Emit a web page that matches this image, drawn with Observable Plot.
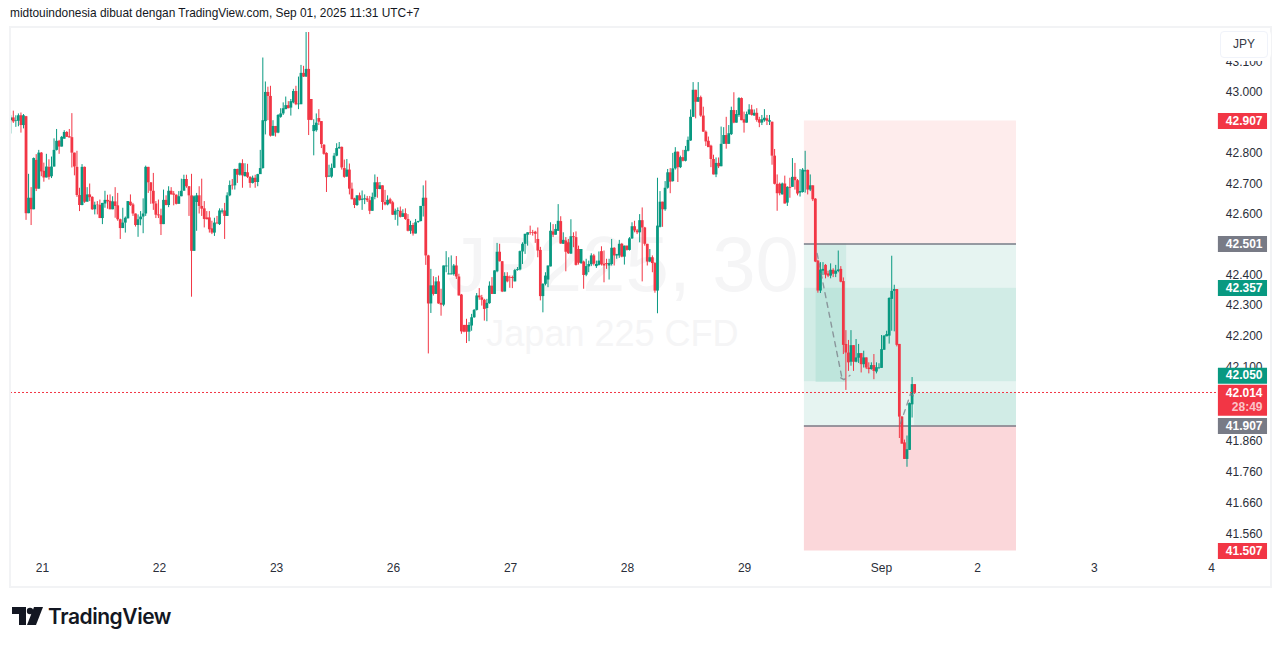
<!DOCTYPE html>
<html><head><meta charset="utf-8">
<script src="https://cdn.jsdelivr.net/npm/d3@7"></script>
<script src="https://cdn.jsdelivr.net/npm/@observablehq/plot@0.6"></script>
<style>
html,body{margin:0;padding:0;background:#fff;width:1281px;height:646px;overflow:hidden;font-family:"Liberation Sans",sans-serif}
#wrap{position:relative;width:1281px;height:646px}
#chart{position:absolute;left:0;top:0}
#pane{position:absolute;left:9px;top:26px;width:1259px;height:558px;border:2px solid #f2f3f5;pointer-events:none}
#title{position:absolute;left:10px;top:6px;font:11.9px "Liberation Sans",sans-serif;color:#131722;white-space:nowrap}
#jpy{position:absolute;left:1220px;top:31px;width:46px;height:25px;line-height:25px;text-align:center;background:#fff;border:1px solid #f0f3fa;border-radius:4px;box-shadow:0 0 0 3px #fff;font:12px/25px "Liberation Sans",sans-serif;color:#363a45}
#logo{position:absolute;left:12px;top:604px;height:24px;display:flex;align-items:center}
#logo span{font:600 21px "Inter",sans-serif;color:#131722;margin-left:5px;letter-spacing:-.45px}
</style></head><body><div id="wrap">
<div id="chart"></div><div id="pane"></div>
<div id="title">midtouindonesia dibuat dengan TradingView.com, Sep 01, 2025 11:31 UTC+7</div>
<div id="jpy">JPY</div>
<div id="logo"><svg width="31" height="18" viewBox="0 0 31 18"><path d="M0 0H14V18H7V7H0Z" fill="#131722"/><circle cx="18" cy="4" r="3.2" fill="#131722"/><path d="M22 0H31L24 18H15Z" fill="#131722"/></svg><span>TradingView</span></div>
</div>
<script>
const opens=[42908,42917,42906,42906,42924,42892,42921,42601,42652,42614,
42777,42682,42801,42741,42719,42754,42723,42755,42810,42840,
42821,42847,42869,42855,42852,42801,42754,42661,42628,42754,
42639,42663,42655,42614,42629,42629,42585,42633,42645,42642,
42614,42640,42627,42581,42552,42570,42584,42639,42630,42600,
42562,42581,42590,42600,42754,42703,42675,42633,42597,42594,
42565,42645,42628,42675,42666,42662,42632,42657,42675,42714,
42690,42660,42477,42638,42660,42625,42617,42587,42587,42551,
42537,42570,42565,42606,42610,42592,42660,42695,42693,42747,
42728,42766,42723,42736,42721,42701,42718,42704,42730,42750,
42905,43000,42987,42857,42889,42867,42919,42930,42944,42957,
42949,42966,43003,42960,42960,43062,43050,43075,42977,42872,
42875,42915,42905,42827,42800,42722,42722,42751,42791,42815,
42820,42750,42722,42745,42682,42650,42628,42660,42645,42647,
42650,42644,42609,42655,42703,42681,42693,42638,42630,42647,
42637,42596,42608,42609,42589,42601,42582,42543,42562,42534,
42572,42575,42625,42652,42462,42305,42364,42336,42377,42307,
42301,42426,42400,42400,42401,42429,42393,42334,42235,42235,
42213,42233,42260,42284,42331,42325,42317,42290,42306,42363,
42336,42410,42474,42443,42344,42395,42391,42391,42377,42414,
42416,42475,42500,42530,42538,42538,42540,42516,42480,42329,
42369,42383,42426,42541,42530,42543,42575,42500,42511,42505,
42468,42525,42522,42483,42437,42442,42399,42426,42433,42462,
42427,42431,42476,42435,42437,42429,42434,42487,42462,42462,
42500,42458,42494,42480,42518,42558,42544,42538,42578,42554,
42500,42442,42456,42437,42347,42556,42639,42614,42685,42736,
42707,42749,42804,42753,42786,42774,42807,42841,42919,43007,
42968,42983,42923,42870,42840,42824,42780,42729,42767,42756,
42830,42859,42830,42862,42941,42900,42925,42980,42911,42900,
42928,42943,42923,42932,42911,42900,42908,42914,42903,42903,
42791,42698,42698,42663,42699,42636,42688,42688,42721,42710,
42669,42671,42739,42744,42679,42693,42649,42445,42347,42412,
42431,42403,42396,42415,42402,42411,42418,42378,42173,42145,
42115,42169,42115,42128,42143,42107,42129,42096,42091,42104,
42083,42095,42095,42154,42198,42200,42320,42346,42352,42173,
41936,41853,41800,41829,41976,42042];
const closes=[42917,42904,42908,42924,42892,42924,42601,42652,42614,42783,
42682,42801,42739,42719,42755,42721,42755,42810,42840,42821,
42853,42869,42853,42851,42801,42755,42661,42628,42754,42639,
42663,42654,42614,42629,42628,42585,42635,42645,42640,42614,
42640,42625,42581,42552,42570,42586,42641,42628,42600,42562,
42581,42590,42600,42754,42703,42675,42633,42596,42594,42565,
42645,42628,42675,42663,42662,42632,42657,42675,42714,42690,
42660,42477,42657,42660,42625,42616,42582,42581,42548,42537,
42570,42568,42610,42610,42592,42660,42694,42693,42747,42728,
42766,42726,42737,42721,42701,42718,42704,42730,42750,42908,
43000,42987,42857,42889,42867,42925,42930,42947,42957,42947,
42970,43003,42960,42962,43062,43050,43075,42909,42909,42892,
42900,42903,42829,42797,42720,42725,42751,42791,42816,42820,
42752,42721,42745,42682,42647,42628,42660,42644,42649,42650,
42644,42609,42655,42703,42681,42693,42638,42630,42645,42634,
42596,42609,42611,42589,42601,42582,42543,42562,42534,42571,
42575,42625,42652,42462,42305,42364,42336,42377,42305,42301,
42429,42429,42403,42403,42429,42393,42331,42214,42213,42213,
42235,42260,42284,42331,42325,42317,42287,42307,42363,42336,
42413,42474,42443,42344,42395,42377,42389,42388,42414,42417,
42476,42500,42533,42538,42536,42536,42533,42478,42329,42369,
42396,42429,42543,42530,42549,42576,42501,42513,42474,42469,
42525,42522,42431,42438,42483,42398,42427,42434,42462,42435,
42434,42445,42433,42429,42434,42437,42487,42462,42466,42500,
42458,42494,42480,42518,42558,42544,42538,42578,42554,42500,
42442,42456,42437,42347,42560,42639,42614,42685,42736,42705,
42749,42804,42753,42786,42774,42810,42843,42919,43007,42968,
42983,42923,42870,42838,42819,42780,42729,42767,42756,42830,
42859,42830,42865,42941,42900,42928,42980,42908,42900,42928,
42943,42925,42932,42909,42900,42911,42916,42906,42908,42791,
42698,42667,42667,42699,42633,42688,42685,42721,42710,42666,
42674,42745,42743,42679,42693,42647,42442,42347,42416,42418,
42399,42396,42415,42402,42412,42416,42376,42170,42145,42113,
42169,42115,42129,42143,42107,42129,42096,42091,42104,42085,
42097,42097,42156,42200,42205,42323,42346,42352,42170,41936,
41849,41800,41831,41980,42042,42014];
const highs=[42924,42939,42924,42930,42933,42928,42922,42731,42687,42785,
42796,42810,42803,42768,42797,42779,42788,42848,42879,42843,
42856,42875,42872,42879,42931,42801,42807,42685,42763,42755,
42687,42699,42657,42639,42641,42646,42635,42675,42662,42663,
42657,42687,42668,42583,42619,42590,42641,42663,42635,42600,
42597,42608,42650,42758,42754,42703,42734,42641,42646,42616,
42679,42660,42690,42687,42674,42663,42674,42715,42728,42728,
42690,42731,42660,42668,42690,42715,42641,42608,42608,42576,
42586,42592,42617,42617,42635,42670,42709,42714,42748,42748,
42768,42779,42766,42764,42723,42725,42728,42731,42810,43112,
43034,43017,43020,42908,42889,42928,42947,42966,42985,42970,
42977,43010,43020,43050,43088,43085,43195,43195,42977,42911,
42930,42944,42905,42829,42802,42761,42765,42800,42832,42836,
42821,42778,42780,42765,42702,42652,42660,42669,42676,42663,
42658,42658,42669,42729,42721,42704,42693,42678,42660,42652,
42642,42616,42620,42623,42614,42617,42598,42576,42569,42582,
42576,42625,42693,42709,42464,42418,42394,42391,42396,42353,
42429,42476,42456,42462,42434,42460,42402,42336,42235,42255,
42244,42271,42287,42339,42355,42333,42320,42320,42377,42391,
42413,42503,42500,42443,42407,42407,42396,42396,42418,42424,
42478,42505,42533,42538,42560,42546,42543,42554,42490,42371,
42407,42429,42571,42565,42565,42631,42591,42538,42522,42516,
42581,42538,42541,42494,42483,42445,42451,42445,42469,42467,
42445,42475,42492,42478,42451,42451,42516,42489,42467,42513,
42503,42494,42494,42522,42571,42576,42549,42598,42620,42556,
42500,42483,42462,42440,42718,42674,42639,42707,42747,42750,
42800,42819,42805,42791,42810,42823,42854,42943,43032,43007,
43032,42988,42952,42874,42854,42827,42794,42785,42785,42887,
42885,42919,42892,42952,42999,42941,42983,42982,42936,42936,
42960,42958,42943,42947,42919,42925,42944,42925,42925,42903,
42813,42729,42702,42702,42725,42690,42718,42783,42767,42714,
42747,42750,42807,42745,42729,42693,42651,42448,42440,42440,
42434,42412,42436,42420,42431,42478,42427,42390,42218,42186,
42218,42169,42189,42173,42143,42151,42129,42113,42113,42140,
42113,42110,42202,42202,42216,42325,42461,42366,42352,42173,
41938,41862,41875,41982,42065,42042];
const lows=[42864,42899,42886,42888,42867,42881,42579,42601,42562,42614,
42674,42682,42723,42705,42719,42712,42717,42755,42808,42797,
42821,42847,42853,42851,42752,42726,42655,42608,42627,42635,
42639,42641,42612,42597,42597,42585,42565,42619,42616,42614,
42614,42586,42576,42516,42552,42537,42584,42625,42592,42557,
42523,42561,42535,42592,42668,42632,42612,42585,42585,42529,
42565,42627,42621,42663,42627,42630,42633,42657,42690,42685,
42592,42327,42477,42543,42600,42592,42554,42581,42537,42532,
42526,42565,42562,42600,42516,42592,42657,42679,42679,42701,
42725,42685,42723,42717,42685,42699,42685,42690,42731,42748,
42861,42908,42854,42857,42854,42865,42916,42925,42944,42947,
42923,42963,42957,42944,42960,43049,43049,42859,42908,42792,
42870,42892,42816,42794,42671,42721,42718,42750,42789,42814,
42745,42718,42721,42663,42647,42618,42625,42643,42612,42631,
42638,42598,42609,42647,42652,42680,42612,42627,42627,42631,
42595,42579,42560,42587,42589,42579,42541,42533,42527,42534,
42569,42574,42590,42431,42142,42274,42331,42336,42304,42265,
42296,42407,42400,42400,42396,42385,42331,42206,42211,42176,
42182,42216,42258,42282,42317,42298,42249,42247,42304,42336,
42336,42407,42442,42342,42344,42374,42356,42355,42377,42412,
42413,42434,42467,42494,42530,42527,42503,42456,42315,42276,
42364,42358,42426,42522,42530,42543,42500,42500,42410,42467,
42467,42489,42429,42432,42434,42353,42394,42407,42427,42429,
42421,42429,42429,42374,42418,42383,42429,42429,42451,42454,
42456,42432,42478,42478,42516,42538,42532,42505,42377,42494,
42429,42440,42407,42340,42273,42554,42556,42609,42682,42667,
42705,42745,42704,42750,42772,42772,42805,42840,42919,42914,
42968,42919,42870,42823,42821,42753,42729,42720,42750,42756,
42830,42814,42830,42859,42898,42900,42919,42908,42867,42900,
42925,42923,42923,42903,42885,42892,42903,42892,42892,42761,
42696,42609,42660,42663,42633,42625,42652,42688,42679,42660,
42656,42669,42669,42663,42674,42641,42440,42340,42339,42398,
42387,42391,42387,42391,42391,42407,42374,42140,42023,42085,
42102,42085,42113,42111,42080,42096,42091,42077,42089,42058,
42077,42091,42095,42154,42198,42174,42216,42214,42165,41867,
41849,41800,41775,41829,41933,42010];

const axisPrices=[43100,43000,42800,42700,42600,42400,42300,42200,42100,41860,41760,41660,41560];
const dayLabels=["21","22","23","26","27","28","29","Sep","2","3","4"];
const dayBars=[12.45,58.4,104.4,150.3,196.3,242.2,288.2,342,379.7,425.6,471.6];
const scaleBars=[-0.1,471.2], scaleBarPx=[10,1210];
const scalePrices=[43200,42907,42501,42357,41907,41507,41000];
const scalePx=[30.5,120.5,243.5,287.5,425.5,550.5,706.5];
const tagPrices=[42907,42501,42357,42050,41907,41507];
const tagColors=["#f23645","#787b86","#089981","#089981","#787b86","#f23645"];
const tagNudge=[0,0,0,-6.5,0,0];
const lastPrice=42014, lastCountdown="28:49";
const boxBars=[311.7,395], tradeBar=354, entryBars=[316.3,328.3];
const target=42907, entryHigh=42501, fill=42357, entry=42050, entryLow=41907, stop=41507;
const tagBars=[474.3,493.6];
const fcBars=[316.7,326.3, 326,327.2,329.6, 349.4,353.4,356];
const fcPrices=[42470,42070, 42064,42058,42072, 41914,42012,41996];
const fcPaths=["a","a","b","b","b","c","c","c"];
const watermarkBars=[240.6,236.3], watermarkPrices=[42430,42205];
const watermarkTexts=["JP225, 30","Japan 225 CFD"];

const up="#089981", down="#f23645", ink="#2a2e39";
const bars=closes.map((c,i)=>({i,o:opens[i],h:highs[i],l:lows[i],c,col:c>=opens[i]?up:down}));
const fc=fcBars.map((x,i)=>({x,y:fcPrices[i],p:fcPaths[i]}));
const fmt=v=>(v/1000).toFixed(3);
const zones=[
 {x1:boxBars[0],x2:boxBars[1],y1:target,y2:entryHigh,f:"#feecec"},
 {x1:boxBars[0],x2:boxBars[1],y1:entryHigh,y2:fill,f:"#e6f4f1"},
 {x1:boxBars[0],x2:boxBars[1],y1:fill,y2:entry,f:"#d1ece6"},
 {x1:boxBars[0],x2:boxBars[1],y1:entry,y2:entryLow,f:"#e6f4f1"},
 {x1:tradeBar+1,x2:boxBars[1],y1:lastPrice,y2:entryLow,f:"#d1ece6"},
 {x1:boxBars[0],x2:boxBars[1],y1:entryLow,y2:stop,f:"#fbd7da"},
 {x1:entryBars[0],x2:entryBars[1],y1:entryHigh,y2:fill,f:"#d1ece6"},
 {x1:entryBars[0],x2:entryBars[1],y1:fill,y2:entry,f:"#bee5dc"}
];
const textFont='"Liberation Sans",sans-serif';
const tagMarks=tagPrices.flatMap((y,i)=>[
 Plot.ruleY([y],{x1:tagBars[0],x2:tagBars[1],stroke:tagColors[i],strokeWidth:16,dy:tagNudge[i]}),
 Plot.text([y],{y:d=>d,text:fmt,dy:tagNudge[i],frameAnchor:"right",textAnchor:"end",dx:52,fontSize:12,fontWeight:700,fill:"#fff"})
]);
const days=dayBars.map((x,i)=>({x,t:dayLabels[i]}));

const plot=Plot.plot({
 width:1281,height:646,marginLeft:10,marginRight:71,marginTop:27,marginBottom:60,
 style:{background:"transparent",fontFamily:textFont},
 x:{type:"linear",domain:scaleBars,range:scaleBarPx,axis:null},
 y:{type:"linear",domain:scalePrices,range:scalePx,axis:null},
 marks:[
  Plot.text([watermarkTexts[0]],{x:()=>watermarkBars[0],y:()=>watermarkPrices[0],text:d=>d,fontSize:78,fill:"#f5f5f6",fontFamily:textFont}),
  Plot.text([watermarkTexts[1]],{x:()=>watermarkBars[1],y:()=>watermarkPrices[1],text:d=>d,fontSize:36,fill:"#f5f5f6",fontFamily:textFont}),
  Plot.rect(zones,{x1:"x1",x2:"x2",y1:"y1",y2:"y2",fill:"f"}),
  Plot.ruleY([entryHigh,entryLow],{x1:boxBars[0],x2:boxBars[1],stroke:"#787b86",strokeWidth:1.5}),
  Plot.ruleX(bars,{x:"i",y1:"l",y2:"h",stroke:"col",strokeWidth:1,clip:"frame"}),
  Plot.ruleX(bars,{x:"i",y1:"o",y2:"c",stroke:"col",strokeWidth:2.8,clip:"frame"}),
  Plot.line(fc,{x:"x",y:"y",z:"p",stroke:"#787b86",strokeOpacity:.75,strokeWidth:1.4,strokeDasharray:"5 5"}),
  Plot.ruleY([lastPrice],{x1:scaleBars[0],x2:tagBars[0],stroke:down,strokeWidth:1,strokeDasharray:"2 2",dy:-0.7}),
  Plot.text(axisPrices,{y:d=>d,text:fmt,frameAnchor:"right",textAnchor:"end",dx:52,fontSize:12,fill:ink}),
  Plot.text(days,{x:"x",text:"t",frameAnchor:"bottom",dy:-15,fontSize:12,fill:ink}),
  ...tagMarks,
  Plot.ruleY([lastPrice],{x1:tagBars[0],x2:tagBars[1],stroke:down,strokeWidth:31,dy:7}),
  Plot.text([lastPrice],{y:d=>d,text:fmt,frameAnchor:"right",textAnchor:"end",dx:52,fontSize:12,fontWeight:700,fill:"#fff"}),
  Plot.text([lastPrice],{y:d=>d,text:()=>lastCountdown,frameAnchor:"right",textAnchor:"end",dx:52,dy:14,fontSize:12,fontWeight:700,fill:"#fbc4c9"})
 ]
});
document.getElementById("chart").append(plot);
</script></body></html>
